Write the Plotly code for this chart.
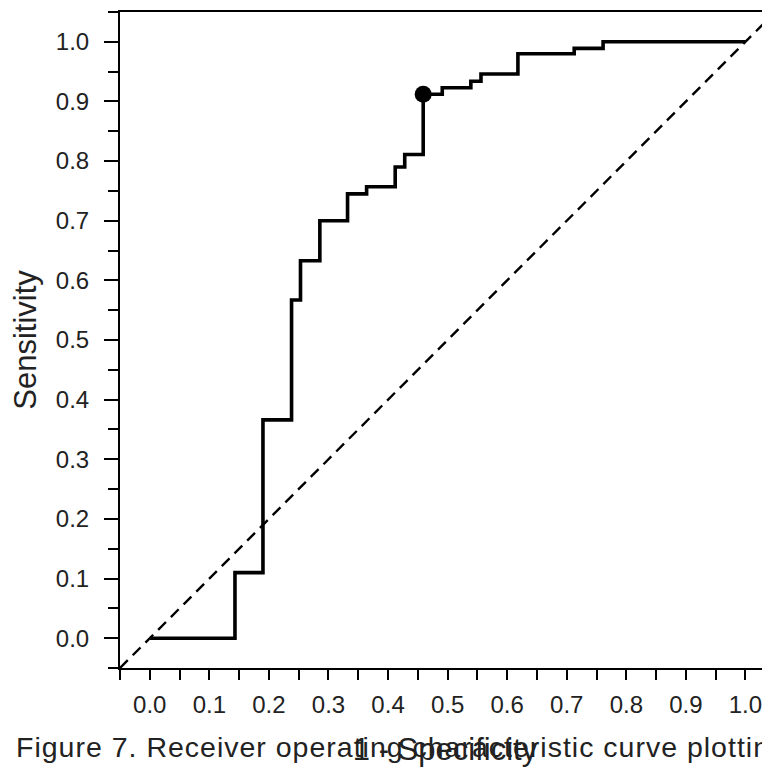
import plotly.graph_objects as go

# ROC step curve: (1 - specificity, sensitivity) points, drawn with horizontal-then-vertical steps
fpr = [0.0, 0.143, 0.190, 0.238, 0.253, 0.2855, 0.332, 0.364, 0.412, 0.428,
       0.459, 0.491, 0.539, 0.556, 0.618, 0.7125, 0.761, 1.0]
tpr = [0.0, 0.110, 0.366, 0.567, 0.633, 0.700, 0.745, 0.757, 0.790, 0.811,
       0.912, 0.923, 0.934, 0.946, 0.980, 0.989, 1.0, 1.0]

# optimal cut-off point
cut_x = [0.459]
cut_y = [0.912]

# reference (chance) diagonal
diag = [-0.05, 1.05]

tick_vals = [0.0, 0.1, 0.2, 0.3, 0.4, 0.5, 0.6, 0.7, 0.8, 0.9, 1.0]
tick_text = ["0.0", "0.1", "0.2", "0.3", "0.4", "0.5", "0.6", "0.7", "0.8", "0.9", "1.0"]

caption = "Figure 7. Receiver operating characteristic curve plotting"

FONT = "Liberation Sans, Arial, sans-serif"
TXT = "#222222"

fig = go.Figure()
fig.add_trace(go.Scatter(x=diag, y=diag, mode="lines",
                         line=dict(color="black", width=2.4, dash="11px,7px"),
                         hoverinfo="skip", showlegend=False))
fig.add_trace(go.Scatter(x=fpr, y=tpr, mode="lines", line_shape="hv",
                         line=dict(color="black", width=3.6), showlegend=False))
fig.add_trace(go.Scatter(x=cut_x, y=cut_y, mode="markers",
                         marker=dict(color="black", size=17), showlegend=False))

axis_common = dict(
    showgrid=False, zeroline=False, showline=True, linecolor="black", linewidth=2,
    ticks="outside", tickcolor="black", tickwidth=2,
    tickvals=tick_vals, ticktext=tick_text,
    tickfont=dict(family=FONT, size=24, color=TXT),
    minor=dict(dtick=0.05, tick0=-0.05, ticks="outside", ticklen=10,
               tickcolor="black", tickwidth=2, showgrid=False),
)

# page body has an 8px margin, so the figure is sized/positioned to land on the reference
fig.update_layout(
    width=762, height=761,
    margin=dict(l=112, r=0, t=4, b=101),
    paper_bgcolor="white", plot_bgcolor="white",
    font=dict(family=FONT, color=TXT),
    xaxis=dict(axis_common, range=[-0.05, 1.0412], ticklen=10, mirror=True,
               ticklabelstandoff=4,
               title=dict(text="1 - Specificity", font=dict(family=FONT, size=31, color=TXT),
                          standoff=22)),
    yaxis=dict(axis_common, range=[-0.05, 1.05], ticklen=14, mirror=False,
               ticklabelstandoff=10,
               title=dict(text="Sensitivity", font=dict(family=FONT, size=31, color=TXT),
                          standoff=16)),
    annotations=[dict(text="<span style='letter-spacing:1px'>" + caption + "</span>",
                      xref="paper", yref="paper", x=(6 - 112) / 650, y=-(738.5 - 660) / 656,
                      xanchor="left", yanchor="middle", showarrow=False,
                      font=dict(family=FONT, size=28.5, color=TXT))],
)

fig.write_html("out.html")
